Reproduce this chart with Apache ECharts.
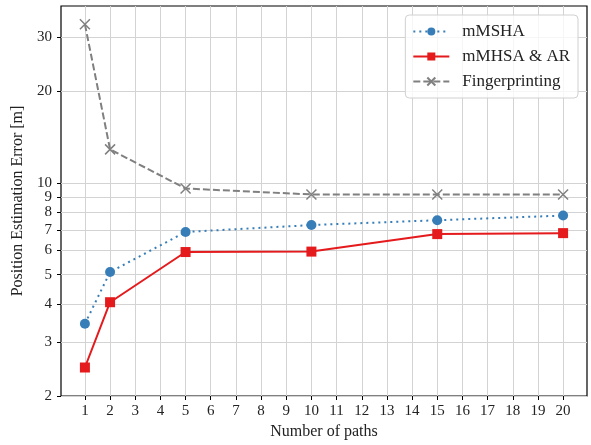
<!DOCTYPE html>
<html>
<head>
<meta charset="utf-8">
<script src="https://cdn.jsdelivr.net/npm/echarts@6/dist/echarts.min.js"></script>
<style>
  html, body { margin: 0; padding: 0; background: #fff; }
  #chart { width: 591px; height: 445px; }
</style>
</head>
<body>
<div id="chart"></div>
<script>
// --- data ---
const paths = [1, 2, 5, 10, 15, 20];
const mmsha = [3.45, 5.10, 6.90, 7.27, 7.54, 7.81];
const mmhsaAr = [2.48, 4.06, 5.93, 5.95, 6.79, 6.84];
const fingerprinting = [33.1, 12.87, 9.58, 9.16, 9.16, 9.16];

const xTicks = [1, 2, 3, 4, 5, 6, 7, 8, 9, 10, 11, 12, 13, 14, 15, 16, 17, 18, 19, 20];
const yTicks = [2, 3, 4, 5, 6, 7, 8, 9, 10, 20, 30];

const font = 'Liberation Serif';
const pairs = vals => paths.map((p, i) => [p, vals[i]]);

const chart = echarts.init(document.getElementById('chart'));
chart.setOption({
    animation: false,
    textStyle: { fontFamily: font },
    grid: { left: 61, right: 4, top: 6, bottom: 46, show: true, borderColor: '#000', borderWidth: 1.2 },
    legend: {
        orient: 'vertical',
        right: 13, top: 15,
        itemWidth: 36, itemHeight: 10, itemGap: 8,
        padding: [8, 8, 8, 7],
        backgroundColor: 'rgba(255,255,255,0.8)',
        borderColor: '#d0d0d0', borderWidth: 1, borderRadius: 4,
        textStyle: { fontFamily: font, fontSize: 17, color: '#222', padding: [0, 0, 0, 8] },
        data: ['mMSHA', 'mMHSA & AR', 'Fingerprinting']
    },
    xAxis: {
        type: 'value', min: 0.05, max: 20.95,
        name: 'Number of paths', nameLocation: 'middle', nameGap: 28,
        nameTextStyle: { fontFamily: font, fontSize: 16, color: '#222' },
        axisLine: { show: false },
        axisTick: { show: true, length: 4, lineStyle: { color: '#000' }, customValues: xTicks },
        axisLabel: { fontFamily: font, fontSize: 15, color: '#222', margin: 8, customValues: xTicks },
        splitLine: { show: true, lineStyle: { color: '#d3d3d3', width: 1 } }
    },
    yAxis: {
        type: 'log', logBase: 10, min: 2, max: 38,
        name: 'Position Estimation Error [m]', nameLocation: 'middle', nameGap: 35,
        nameTextStyle: { fontFamily: font, fontSize: 16, color: '#222' },
        axisLine: { show: false },
        axisTick: { show: true, length: 4, lineStyle: { color: '#000' }, customValues: yTicks },
        axisLabel: { fontFamily: font, fontSize: 15, color: '#222', margin: 9, customValues: yTicks },
        splitLine: { show: true, lineStyle: { color: '#d3d3d3', width: 1 } }
    },
    series: [
        {
            name: 'mMSHA', type: 'line', data: pairs(mmsha),
            symbol: 'circle', symbolSize: 10,
            itemStyle: { color: '#377eb8' },
            lineStyle: { color: '#377eb8', width: 2, type: [2, 4] }
        },
        {
            name: 'mMHSA & AR', type: 'line', data: pairs(mmhsaAr),
            symbol: 'rect', symbolSize: 10,
            itemStyle: { color: '#e41a1c' },
            lineStyle: { color: '#e41a1c', width: 2 }
        },
        {
            name: 'Fingerprinting', type: 'line', data: pairs(fingerprinting),
            symbol: 'path://M0,0L10,10M10,0L0,10', symbolSize: 10,
            itemStyle: { color: 'rgba(0,0,0,0)', borderColor: '#808080', borderWidth: 1.5 },
            lineStyle: { color: '#808080', width: 2, type: [7, 3] }
        }
    ]
});
</script>
</body>
</html>
